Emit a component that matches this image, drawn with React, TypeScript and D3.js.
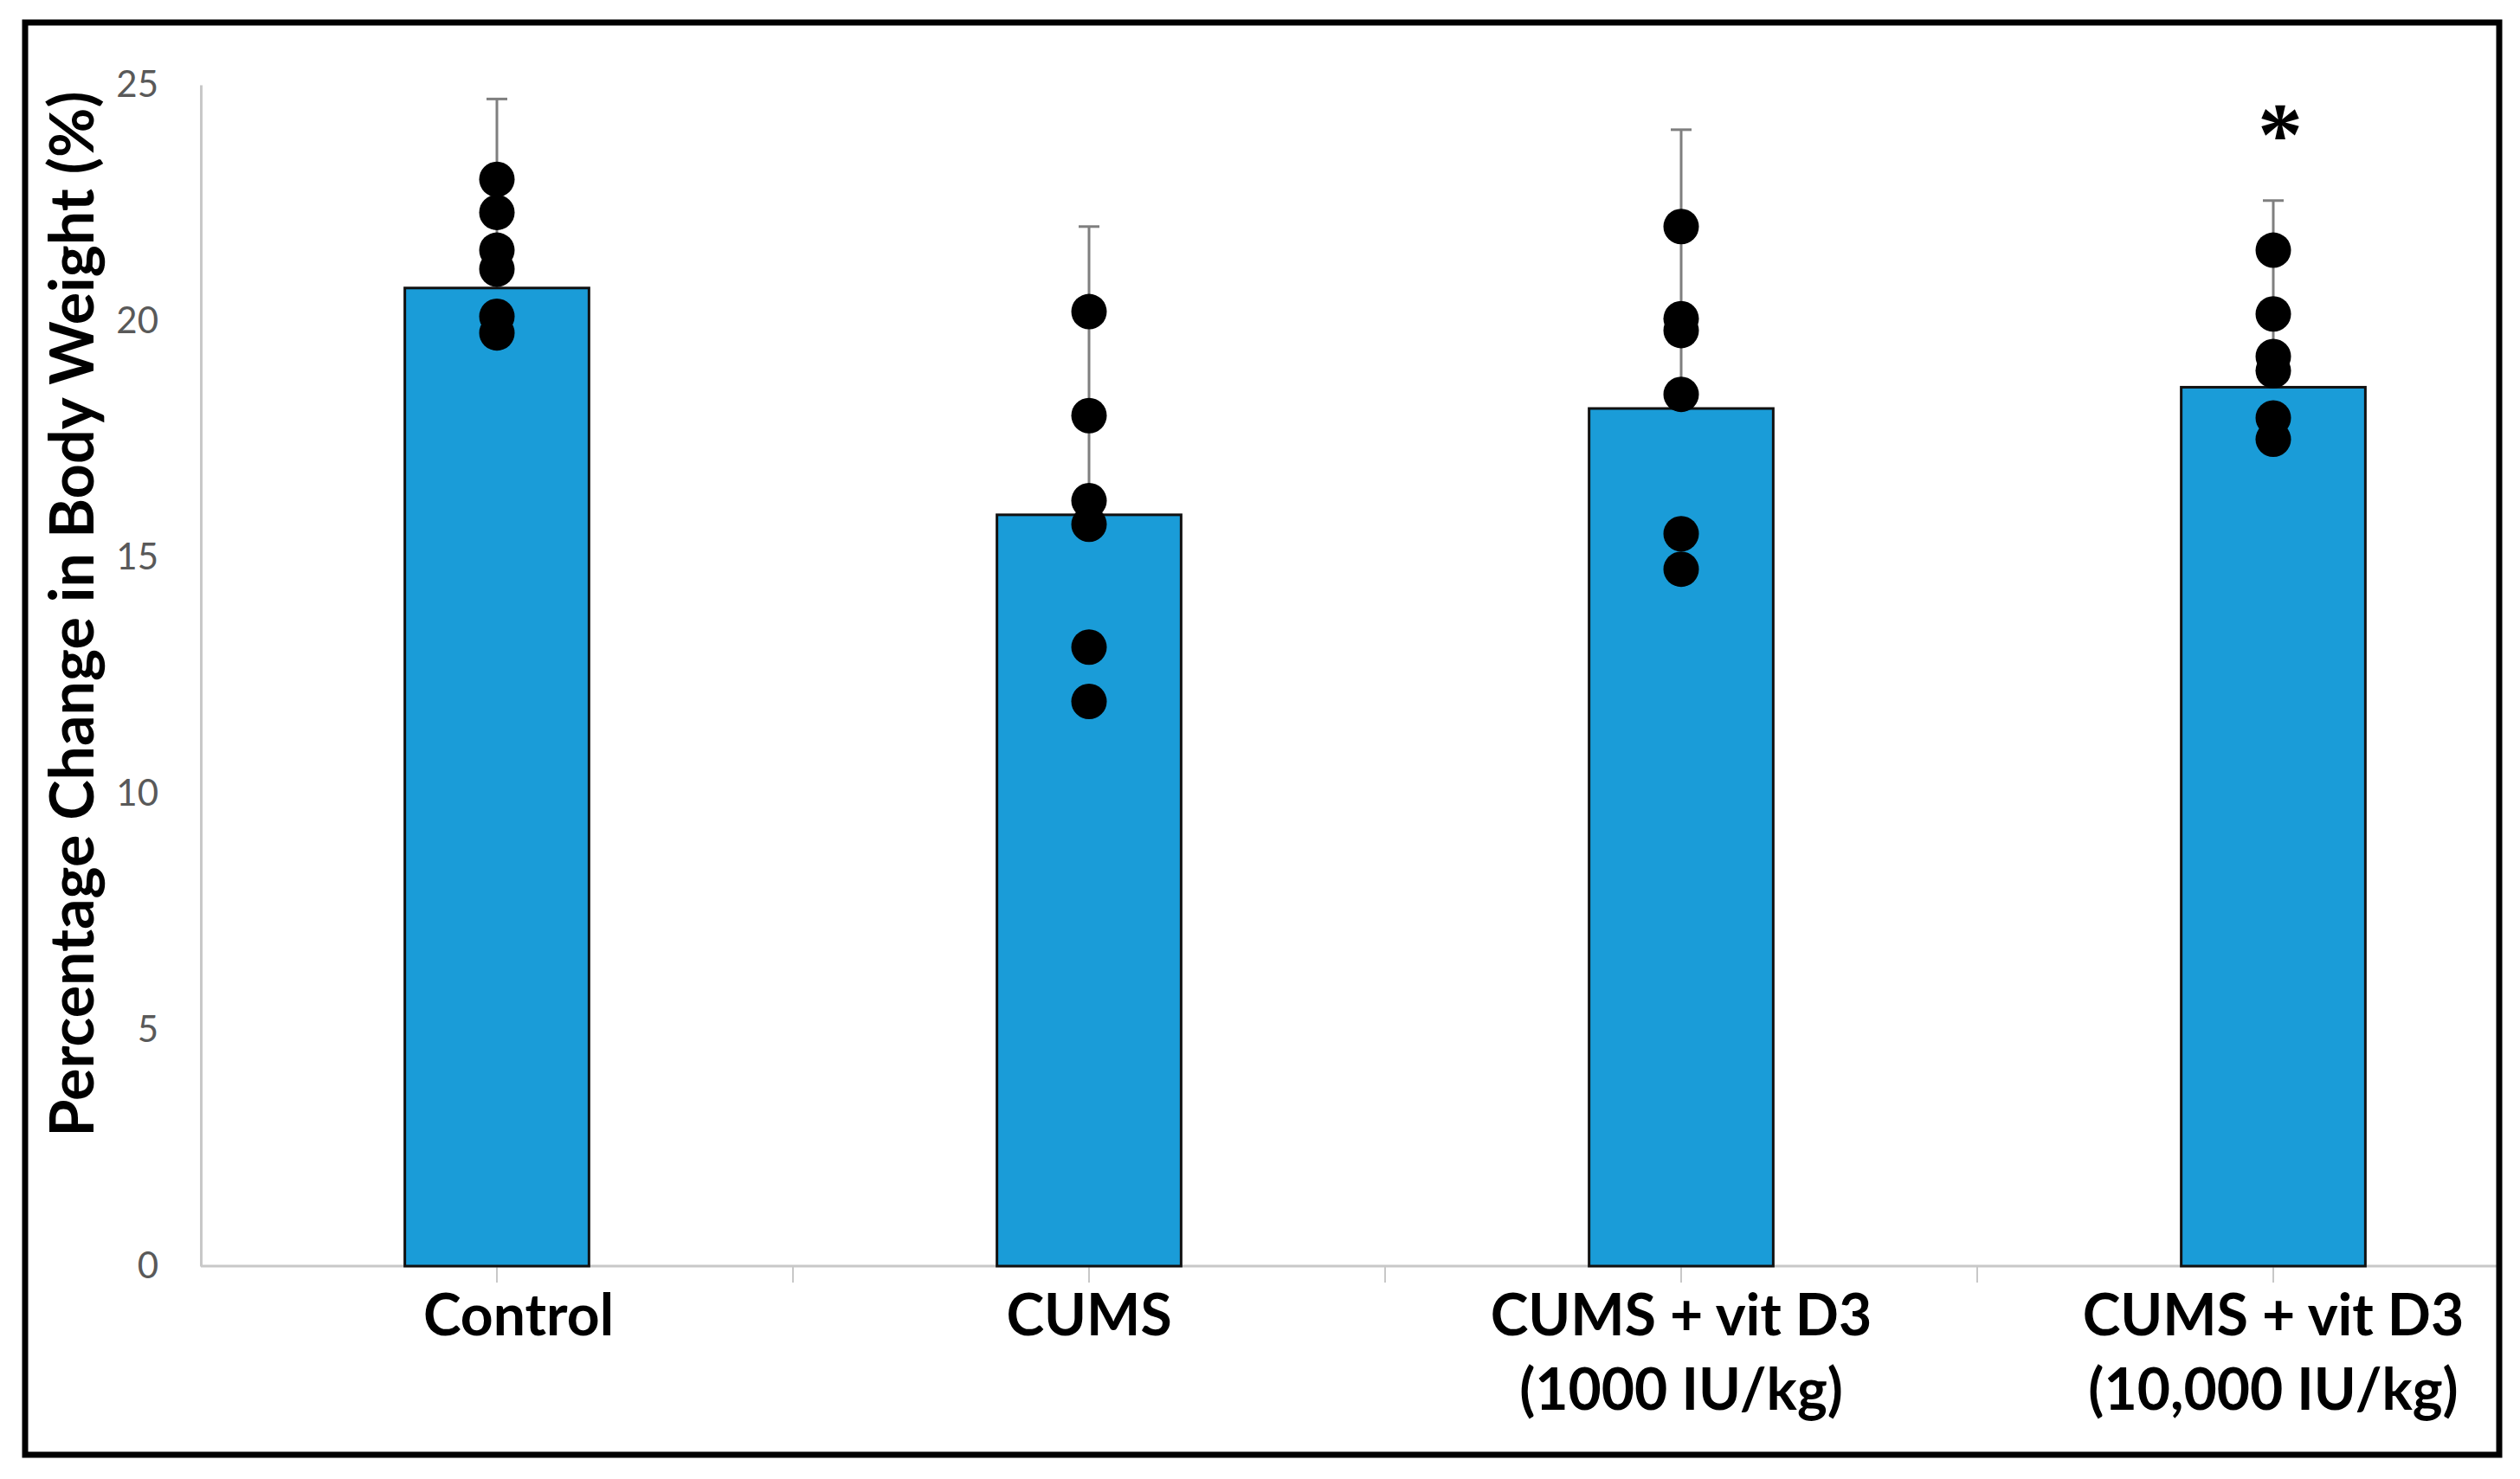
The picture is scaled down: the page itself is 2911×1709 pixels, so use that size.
import React, { useEffect, useRef } from 'react';
import * as d3 from 'd3';

// Group labels (second line after \n)
const categories = [
  'Control',
  'CUMS',
  'CUMS + vit D3\n(1000 IU/kg)',
  'CUMS + vit D3\n(10,000 IU/kg)',
];

// Bar heights (mean % change)
const means = [20.7, 15.9, 18.15, 18.6];

// Upper error bar (SD)
const errors = [4.0, 6.1, 5.9, 3.95];

// Individual animals per group
const controlDots = [23.0, 22.3, 21.5, 21.1, 20.1, 19.75];
const cumsDots = [20.2, 18.0, 16.2, 15.7, 13.1, 11.95];
const lowDoseDots = [22.0, 20.05, 19.8, 18.45, 15.5, 14.75];
const highDoseDots = [21.5, 20.15, 19.25, 18.95, 17.95, 17.5];

const yTicks = [0, 5, 10, 15, 20, 25];
const significant = [false, false, false, true];

const FONT = 'Lato, "Open Sans", sans-serif';

const App = () => {
  const ref = useRef<SVGSVGElement | null>(null);

  useEffect(() => {
    document.body.style.margin = '0';
    document.body.style.overflow = 'hidden';

    const width = 2911;
    const height = 1709;
    const margin = { top: 98, left: 232, bottom: 246 };
    const borderRight = 2887;
    const axisY = height - margin.bottom;

    const svg = d3.select(ref.current);
    svg.selectAll('*').remove();

    svg.append('rect')
      .attr('width', width)
      .attr('height', height)
      .attr('fill', '#ffffff');

    const x = d3.scaleBand()
      .domain(categories)
      .range([margin.left, margin.left + 4 * 684])
      .padding(0);

    const y = d3.scaleLinear()
      .domain([0, 25])
      .range([axisY, margin.top]);

    const barWidth = x.bandwidth() * 0.311;
    const cx = (c: string) => (x(c) as number) + x.bandwidth() / 2;

    // y axis
    const yAxis = svg.append('g')
      .attr('transform', `translate(${margin.left},0)`)
      .call(d3.axisLeft(y).tickValues(yTicks).tickSize(0).tickSizeOuter(0).tickPadding(49));
    yAxis.select('.domain').attr('stroke', '#c8c8c8').attr('stroke-width', 3);
    yAxis.selectAll('text')
      .attr('font-family', FONT)
      .attr('font-size', 42)
      .attr('fill', '#595959');

    // x axis line and ticks
    svg.append('line')
      .attr('x1', margin.left)
      .attr('x2', borderRight)
      .attr('y1', axisY)
      .attr('y2', axisY)
      .attr('stroke', '#c8c8c8')
      .attr('stroke-width', 3);

    const tickXs: number[] = [];
    categories.forEach(c => {
      tickXs.push(x(c) as number);
      tickXs.push(cx(c));
    });
    svg.selectAll('.xtick')
      .data(tickXs.filter(t => t > margin.left))
      .enter()
      .append('line')
      .attr('class', 'xtick')
      .attr('x1', d => d)
      .attr('x2', d => d)
      .attr('y1', axisY)
      .attr('y2', axisY + 19)
      .attr('stroke', '#c8c8c8')
      .attr('stroke-width', 2);

    const data = categories.map((c, i) => ({
      category: c,
      mean: means[i],
      err: errors[i],
      dots: [controlDots, cumsDots, lowDoseDots, highDoseDots][i],
      sig: significant[i],
    }));

    // error bars (upper only)
    svg.selectAll('.err')
      .data(data)
      .enter()
      .append('line')
      .attr('x1', d => cx(d.category))
      .attr('x2', d => cx(d.category))
      .attr('y1', d => y(d.mean))
      .attr('y2', d => y(d.mean + d.err))
      .attr('stroke', '#7f7f7f')
      .attr('stroke-width', 3);

    svg.selectAll('.cap')
      .data(data)
      .enter()
      .append('line')
      .attr('x1', d => cx(d.category) - 12)
      .attr('x2', d => cx(d.category) + 12)
      .attr('y1', d => y(d.mean + d.err))
      .attr('y2', d => y(d.mean + d.err))
      .attr('stroke', '#7f7f7f')
      .attr('stroke-width', 3);

    // bars
    svg.selectAll('.bar')
      .data(data)
      .enter()
      .append('rect')
      .attr('x', d => cx(d.category) - barWidth / 2)
      .attr('y', d => y(d.mean))
      .attr('width', barWidth)
      .attr('height', d => axisY - y(d.mean))
      .attr('fill', '#1a9cd8')
      .attr('stroke', '#111111')
      .attr('stroke-width', 3);

    // individual points
    data.forEach(d => {
      svg.selectAll(null)
        .data(d.dots)
        .enter()
        .append('circle')
        .attr('cx', cx(d.category))
        .attr('cy', v => y(v))
        .attr('r', 20.5)
        .attr('fill', '#000000');
    });

    // significance star
    svg.selectAll('.star')
      .data(data.filter(d => d.sig))
      .enter()
      .append('text')
      .attr('x', d => cx(d.category) + 8)
      .attr('y', d => y(d.mean + d.err) - 42)
      .attr('text-anchor', 'middle')
      .attr('font-family', '"Liberation Serif", serif')
      .attr('font-size', 104)
      .attr('font-weight', 'bold')
      .attr('fill', '#000000')
      .text('*');

    // category labels
    const labels = svg.selectAll('.xlabel')
      .data(categories)
      .enter()
      .append('text')
      .attr('text-anchor', 'middle')
      .attr('font-family', FONT)
      .attr('font-weight', 'bold')
      .attr('font-size', 66)
      .attr('fill', '#000000');
    labels.each(function (c, i) {
      const lines = c.split('\n');
      const shift = i === 0 ? 25 : 0;
      d3.select(this).selectAll('tspan')
        .data(lines)
        .enter()
        .append('tspan')
        .attr('x', cx(c) + shift)
        .attr('y', (_, j) => axisY + 80 + j * 86)
        .text(l => l);
    });

    // y title
    svg.append('text')
      .attr('transform', `translate(108,${(97 + 1322) / 2}) rotate(-90)`)
      .attr('text-anchor', 'middle')
      .attr('font-family', FONT)
      .attr('font-weight', 'bold')
      .attr('font-size', 70)
      .attr('fill', '#000000')
      .text('Percentage Change in Body Weight (%)');

    // frame
    svg.append('rect')
      .attr('x', 29)
      .attr('y', 26)
      .attr('width', borderRight - 29)
      .attr('height', 1681 - 26)
      .attr('fill', 'none')
      .attr('stroke', '#000000')
      .attr('stroke-width', 7);
  }, []);

  return <svg ref={ref} width={2911} height={1709} style={{ display: 'block' }} />;
};

export default App;
